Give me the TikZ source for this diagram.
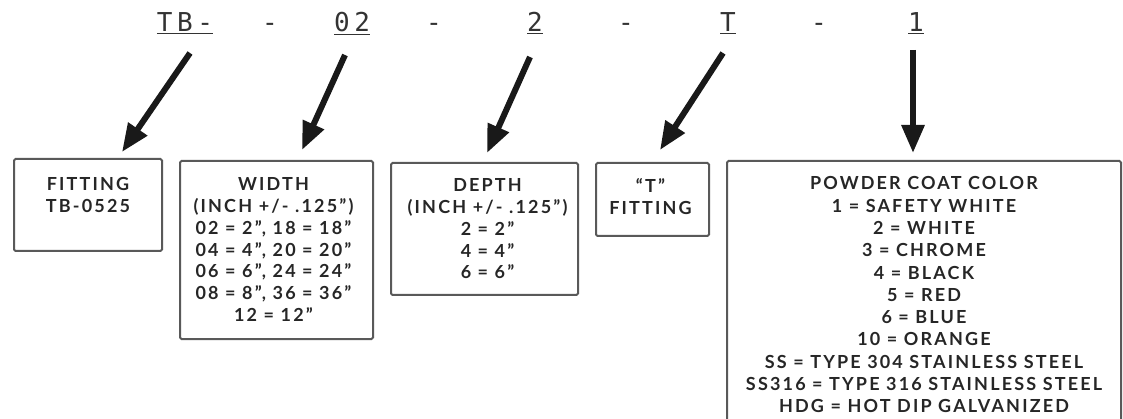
\documentclass[tikz,border=0pt]{standalone}
\usepackage{fontspec}
\usetikzlibrary{arrows.meta,positioning}
\newfontfamily\codefont{DejaVu Sans Mono}[LetterSpace=18]
\newfontfamily\boxfont{Lato}[LetterSpace=12]
\definecolor{framegray}{gray}{0.35}
\tikzset{
        % Parts of the part number
        code_part/.style={anchor=base, inner sep=0pt, text=black!80, font=\codefont\fontsize{26}{30}\selectfont},
        % Arrows from a part to its box
        code_arrow/.style={line width=6pt, black!90, -{Triangle[length=28pt, width=22pt]}},
        % Frames of the boxes
        box_frame/.style={draw=framegray, line width=2pt, rounded corners=1.5pt, anchor=north west, inner sep=0pt},
        % Text inside the boxes
        box_text/.style={align=center, inner sep=0pt, text=black!85, font=\boxfont\bfseries\fontsize{18}{21.8}\selectfont}
}

\begin{document}
\begin{tikzpicture}[x=1pt, y=-1pt]
    \useasboundingbox (0,0) rectangle (1123,419);

    % part number
    \node[code_part] (tb)    at (185,32) {\underline{TB-}};
    \node[code_part] (dash1) at (270,32) {-};
    \node[code_part] (width) at (352,32) {\underline{02}};
    \node[code_part] (dash2) at (434,32) {-};
    \node[code_part] (depth) at (535,32) {\underline{2}};
    \node[code_part] (dash3) at (626,32) {-};
    \node[code_part] (tee)   at (728,32) {\underline{T}};
    \node[code_part] (dash4) at (819,32) {-};
    \node[code_part] (color) at (916,32) {\underline{1}};

    % boxes
    \node[box_frame, minimum width=148, minimum height=92] (fit_box) at (13,158) {};
    \node[box_frame, minimum width=193, minimum height=178] (width_box) at (179,160) {};
    \node[box_frame, minimum width=187, minimum height=132] (depth_box) at (390,162) {};
    \node[box_frame, minimum width=113, minimum height=73] (tee_box) at (595,162) {};
    \node[box_frame, minimum width=394, minimum height=280] (color_box) at (726,160) {};

    \node[box_text, below=19pt of fit_box.north] (fit_text) {FITTING\\TB-0525};
    \node[box_text, below=17.5pt of width_box.north, xshift=-3pt] (width_text)
        {WIDTH\\(INCH +/- .125”)\\02 = 2”, 18 = 18”\\04 = 4”, 20 = 20”\\06 = 6”, 24 = 24”\\08 = 8”, 36 = 36”\\12 = 12”};
    \node[box_text, below=16.5pt of depth_box.north, xshift=3pt] (depth_text)
        {DEPTH\\(INCH +/- .125”)\\2 = 2”\\4 = 4”\\6 = 6”};
    \node[box_text, below=16.5pt of tee_box.north, xshift=-2pt] (tee_text) {“T”\\FITTING};
    \node[box_text, below=16.5pt of color_box.north, font=\boxfont\bfseries\fontsize{18}{22.3}\selectfont] (color_text)
        {POWDER COAT COLOR\\1 = SAFETY WHITE\\2 = WHITE\\3 = CHROME\\4 = BLACK\\5 = RED\\6 = BLUE\\10 = ORANGE\\SS = TYPE 304 STAINLESS STEEL\\SS316 = TYPE 316 STAINLESS STEEL\\HDG = HOT DIP GALVANIZED};

    % arrows
    \coordinate (tb_tail) at (190,53);    \coordinate (tb_tip) at (122,152);
    \coordinate (width_tail) at (345,55); \coordinate (width_tip) at (302,150);
    \coordinate (depth_tail) at (530,57); \coordinate (depth_tip) at (487,153);
    \coordinate (tee_tail) at (723,53);   \coordinate (tee_tip) at (660,150);
    \coordinate (color_tail) at (913,50); \coordinate (color_tip) at (913,153);
    \foreach \part in {tb, width, depth, tee, color}
        \draw[code_arrow] (\part_tail) -- (\part_tip);
\end{tikzpicture}
\end{document}
